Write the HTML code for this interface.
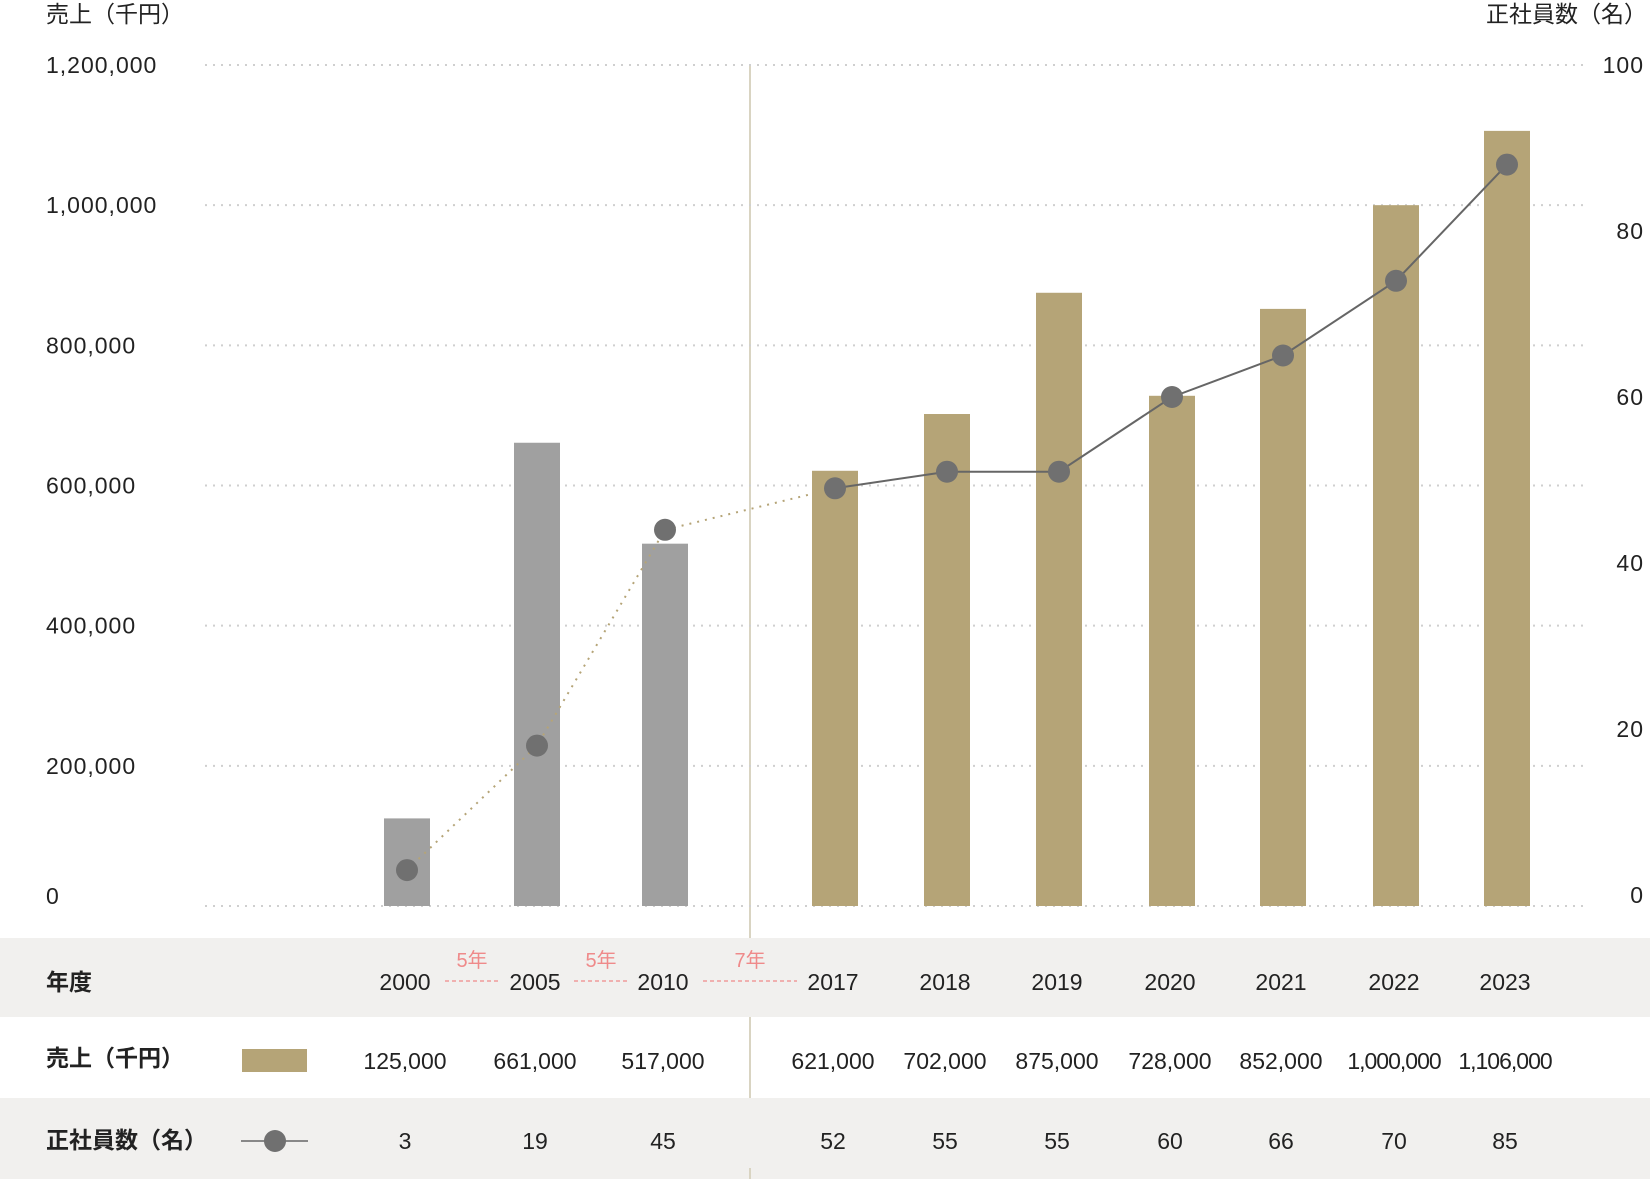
<!DOCTYPE html>
<html><head><meta charset="utf-8"><style>
html,body{margin:0;padding:0;background:#fff}
svg{display:block;font-family:"Liberation Sans","Noto Sans CJK JP",sans-serif}
</style></head><body>
<svg id="chart" width="1650" height="1179" viewBox="0 0 1650 1179" xmlns="http://www.w3.org/2000/svg">
<rect x="0" y="938" width="1650" height="79" fill="#f1f0ee"/>
<rect x="0" y="1098" width="1650" height="81" fill="#f1f0ee"/>
<line x1="750" y1="65" x2="750" y2="938" stroke="#d9d4c2" stroke-width="2"/>
<line x1="750" y1="1017" x2="750" y2="1098" stroke="#d9d4c2" stroke-width="2"/>
<line x1="750" y1="1168" x2="750" y2="1179" stroke="#d9d4c2" stroke-width="2"/>
<text x="46" y="22" font-size="23" fill="#222">売上（千円）</text>
<text x="1647" y="22" font-size="23" fill="#222" text-anchor="end">正社員数（名）</text>
<g id="grid"></g><g id="bars"></g><g id="line"></g><g id="table"></g>
<text x="46" y="990" font-size="23" font-weight="bold" fill="#222">年度</text>
<text x="46" y="1066" font-size="23" font-weight="bold" fill="#222">売上（千円）</text>
<rect x="242" y="1049" width="65" height="23" fill="#b5a477"/>
<text x="46" y="1148" font-size="23" font-weight="bold" fill="#222">正社員数（名）</text>
<line x1="241" y1="1141" x2="308" y2="1141" stroke="#666" stroke-width="1.5"/>
<circle cx="275" cy="1141" r="11" fill="#707070"/>
</svg>
<script>
const years=["2000","2005","2010","2017","2018","2019","2020","2021","2022","2023"];
const sales=[125000,661000,517000,621000,702000,875000,728000,852000,1000000,1106000];
const employeesPlotted=[3,18,44,49,51,51,60,65,74,88];
const employeesTable=[3,19,45,52,55,55,60,66,70,85];
const salesLabels=["125,000","661,000","517,000","621,000","702,000","875,000","728,000","852,000","1,000,000","1,106,000"];
const leftTicks=[0,200000,400000,600000,800000,1000000,1200000];
const leftTickLabels=["0","200,000","400,000","600,000","800,000","1,000,000","1,200,000"];
const rightTicks=[0,20,40,60,80,100];
const gaps=["5年","5年","7年"];
const NS="http://www.w3.org/2000/svg";
const xPos=[407,537,665,835,947,1059,1172,1283,1396,1507];
function x(i){return xPos[i];}
function yL(v){return 906-(v/1200000)*841;}
function yR(v){return 895-(v/100)*830;}
function mk(tag,attrs,parent,text){const e=document.createElementNS(NS,tag);for(const k in attrs)e.setAttribute(k,attrs[k]);if(text!==undefined)e.textContent=text;parent.appendChild(e);return e;}
const grid=document.getElementById('grid'),bars=document.getElementById('bars'),line=document.getElementById('line'),table=document.getElementById('table');
leftTicks.forEach((t,i)=>{
 const y=yL(t);
 const g=mk('line',{x1:205,x2:1584,y1:y,y2:y,stroke:'#cfcfcf','stroke-width':2,'stroke-dasharray':'2 6'},grid);
 
 
 const l=mk('text',{x:46,y:(t===0?y-2:y+8),'font-size':23,fill:'#222','letter-spacing':'1'},grid,leftTickLabels[i]);
 
 
});
rightTicks.forEach(t=>{
 const l=mk('text',{x:1644,y:yR(t)+8,'font-size':23,fill:'#222','text-anchor':'end','letter-spacing':'1'},grid,String(t));
 
 
});
sales.forEach((v,i)=>{
 const b=mk('rect',{x:x(i)-23,y:yL(v),width:46,height:906-yL(v),fill:i<3?'#a0a0a0':'#b5a477'},bars);
 
 
});
const dotPts=employeesPlotted.slice(0,4).map((v,i)=>x(i)+','+yR(v)).join(' ');
const dl=mk('polyline',{points:dotPts,fill:'none',stroke:'#b5a477','stroke-width':2,'stroke-dasharray':'2 6'},line);


const solidPts=employeesPlotted.slice(3).map((v,i)=>x(i+3)+','+yR(v)).join(' ');
const sl=mk('polyline',{points:solidPts,fill:'none',stroke:'#666','stroke-width':2},line);


employeesPlotted.forEach((v,i)=>{
 const c=mk('circle',{cx:x(i),cy:yR(v),r:11,fill:'#707070'},line);
 
 
});
years.forEach((y,i)=>{
 const t=mk('text',{x:x(i)-2,y:990,'font-size':23,fill:'#222','text-anchor':'middle'},table,y);
 
 
 const s=mk('text',{x:x(i)-2,y:1069,'font-size':23,fill:'#222','text-anchor':'middle','letter-spacing':(salesLabels[i].length>7?'-1':'0')},table,salesLabels[i]);
 
 
 const e=mk('text',{x:x(i)-2,y:1149,'font-size':23,fill:'#222','text-anchor':'middle'},table,String(employeesTable[i]));
 
 
});
gaps.forEach((g,i)=>{
 const x1=(x(i)+x(i+1))/2;
 const half=i<2?27:47;
 const d=mk('line',{x1:x1-half,x2:x1+half,y1:981,y2:981,stroke:'#ef9a9a','stroke-width':1.5,'stroke-dasharray':'4 3'},table);
 
 
 const t=mk('text',{x:x1,y:967,'font-size':20,fill:'#ef8a8a','text-anchor':'middle'},table,g);
 
 
});
</script>
</body></html>
